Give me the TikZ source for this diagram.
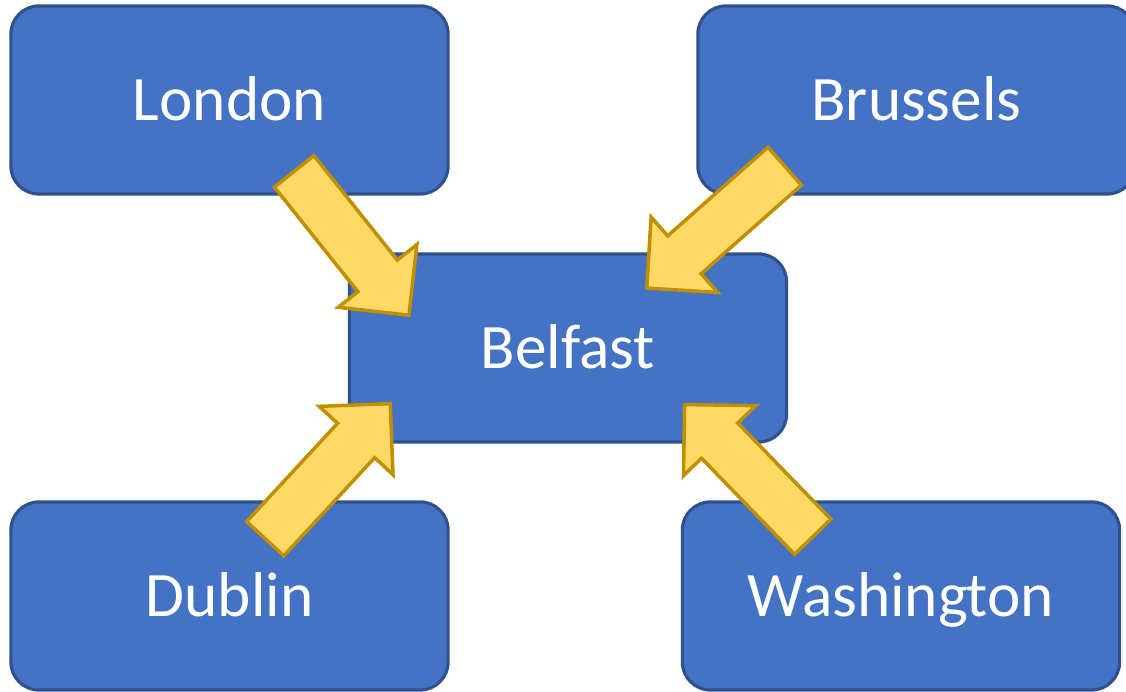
\documentclass[tikz,border=0pt]{standalone}
\usepackage{fontspec}
\setmainfont{Carlito}
\usetikzlibrary{shapes.arrows}
\definecolor{BoxFill}{HTML}{4472C4}
\definecolor{BoxLine}{HTML}{2F528F}
\definecolor{ArrowFill}{HTML}{FFD966}
\definecolor{ArrowLine}{HTML}{BF9000}
\tikzset{
  CityStyle/.style = { rectangle, rounded corners=0.28cm,
                       fill = BoxFill, draw = BoxLine, line width=0.9pt,
                       minimum width=4.37cm, minimum height=1.88cm,
                       text height=0.41cm, text depth=0pt,
                       text = white, font = \fontsize{18}{22}\selectfont },
  ArrowStyle/.style = { single arrow, draw = ArrowLine, fill = ArrowFill,
                        line width=1pt, inner xsep=0pt, inner ysep=0.235cm,
                        single arrow head extend=0.25cm,
                        single arrow tip angle=90,
                        minimum height=1.84cm,
                        sloped, allow upside down, anchor = tail, pos = 0 } }
\begin{document}
\begin{tikzpicture}[x=0.01cm, y=-0.01cm]
  \useasboundingbox (0,0) rectangle (1126,692);
  \clip (0,0) rectangle (1126,692);
  \node[CityStyle](Lon) at (229.5,100) {London};
  \node[CityStyle](Bru) at (916.5,100) {Brussels};
  \node[CityStyle](Bel) at (568,348)   {Belfast};
  \node[CityStyle](Dub) at (229.5,596) {Dublin};
  \node[CityStyle](Was) at (901,596)   {Washington};
  % ends of the block arrows
  \coordinate (LonTail) at (293,170);
  \coordinate (LonTip)  at (408,314);
  \coordinate (BruTail) at (786,165);
  \coordinate (BruTip)  at (648,287);
  \coordinate (DubTail) at (264,540);
  \coordinate (DubTip)  at (389,405);
  \coordinate (WasTail) at (814,538);
  \coordinate (WasTip)  at (686,406);
  \path (LonTail) -- (LonTip) node[ArrowStyle](LonArrow){};
  \path (BruTail) -- (BruTip) node[ArrowStyle](BruArrow){};
  \path (DubTail) -- (DubTip) node[ArrowStyle](DubArrow){};
  \path (WasTail) -- (WasTip) node[ArrowStyle](WasArrow){};
\end{tikzpicture}
\end{document}
